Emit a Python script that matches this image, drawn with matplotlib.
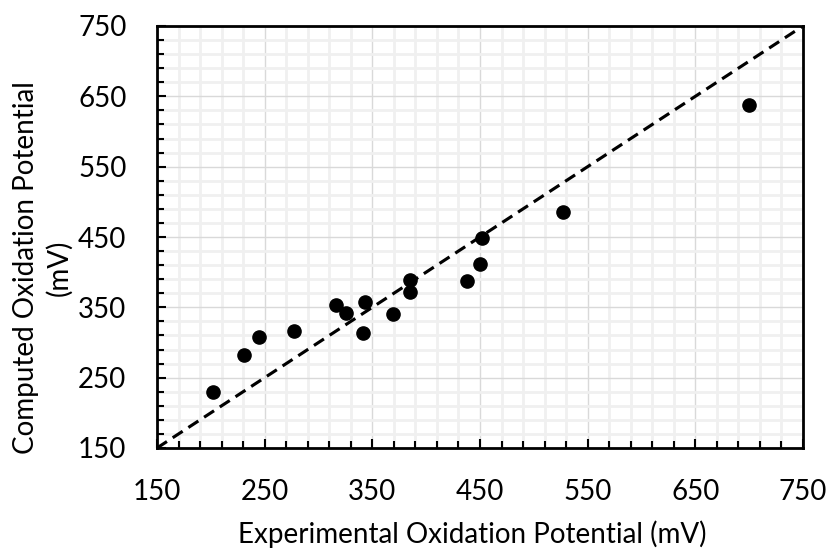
import matplotlib
matplotlib.use('Agg')
import matplotlib.pyplot as plt
import numpy as np

plt.rcParams['font.family'] = ['Lato', 'DejaVu Sans']

# experimental vs computed oxidation potentials (mV)
experimental = [202, 231, 245, 277, 316, 326, 343, 341, 369, 385, 385, 438, 450, 452, 527, 700]
computed = [230, 282, 308, 316, 353, 342, 357, 314, 340, 389, 372, 387, 411, 449, 485, 637]

lims = [150, 750]
major = np.arange(150, 751, 100)
minor = np.arange(150, 751, 20)

fig = plt.figure(figsize=(8.33, 5.5), dpi=100)
ax = fig.add_axes([157/833, 102/550, 646/833, 422/550])

ax.set_xlim(lims); ax.set_ylim(lims)
ax.set_xticks(major); ax.set_yticks(major)
ax.set_xticks(minor, minor=True); ax.set_yticks(minor, minor=True)

ax.grid(which='minor', color='#f0f0f0', lw=2.0, zorder=0)
ax.grid(which='major', color='#d9d9d9', lw=1.0, zorder=0)
ax.set_axisbelow(True)

ax.tick_params(which='both', direction='in', width=1.5, color='black',
               labelsize=20, pad=22)
ax.tick_params(which='major', length=6.5)
ax.tick_params(which='minor', length=4.7)

for s in ax.spines.values():
    s.set_linewidth(2.0)
    s.set_color('black')

# y = x reference line
ax.plot(lims, lims, color='black', lw=2.25, dashes=(3.8, 2.2), zorder=2)
ax.plot(experimental, computed, 'o', color='black', ms=9.5, zorder=3)

fig.text(472/833, 7/550, 'Experimental Oxidation Potential (mV)',
         ha='center', va='baseline', fontsize=20)
fig.text(43/833, 1 - 268/550, 'Computed Oxidation Potential\n(mV)',
         rotation=90, ha='center', va='center', fontsize=20, linespacing=1.3)

fig.savefig('out.png', dpi=100, facecolor='white')
